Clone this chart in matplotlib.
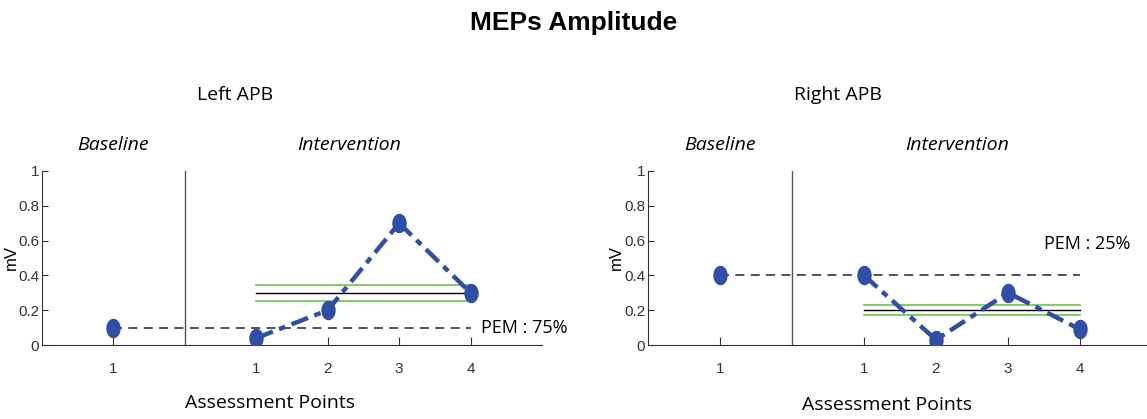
import numpy as np
import matplotlib
matplotlib.use('Agg')
import matplotlib.pyplot as plt
from matplotlib.path import Path

# du lieu doc tu hinh
panels = ['Left APB', 'Right APB']
baseline = [0.1, 0.4]
intervention = [[0.04, 0.2, 0.7, 0.3],
                [0.4, 0.03, 0.3, 0.09]]
median_line = [0.3, 0.2]
band_half = [0.045, 0.03]
pem_label = ['PEM : 75%', 'PEM : 25%']
base_ticks = ['1']
inter_ticks = ['1', '2', '3', '4']
y_ticks = [0, 0.2, 0.4, 0.6, 0.8, 1]
y_ticklabels = ['0', '0.2', '0.4', '0.6', '0.8', '1']

blue = '#2f4fa6'
txt_font = 'Open Sans'
tick_font = ['Liberation Sans Narrow', 'Liberation Sans']

# marker hinh elip (cao hon rong)
t = np.linspace(0, 2 * np.pi, 40)
elip = Path(np.column_stack([0.72 * np.cos(t), np.sin(t)]), closed=True)

fig = plt.figure(figsize=(11.47, 4.19), dpi=100)
fig.text(0.5, 0.945, 'MEPs Amplitude', ha='center', va='center',
         fontsize=19, fontweight='bold', family='Liberation Sans')

ax_pos = [[42/1147, 0.1766, 500/1147, 0.4153],
          [648/1147, 0.1766, 504/1147, 0.4153]]
pem_pos = [(6.15, 0.1), (5.5, 0.58)]

for i in range(2):
    ax = fig.add_axes(ax_pos[i])
    xb = 1
    xi = np.arange(3, 3 + len(intervention[i]))

    # duong doc phan cach
    ax.plot([2, 2], [0, 1], color='#555555', lw=1.0)
    # duong tham chieu PEM
    ax.plot([xb, xi[-1]], [baseline[i], baseline[i]], color='#444444',
            lw=1.3, ls=(0, (5, 3.5)))
    # trung vi va dai
    m = median_line[i]
    h = band_half[i]
    ax.plot([xi[0], xi[-1]], [m, m], color='black', lw=1.0)
    ax.plot([xi[0], xi[-1]], [m + h, m + h], color='#6cc24a', lw=1.2)
    ax.plot([xi[0], xi[-1]], [m - h, m - h], color='#6cc24a', lw=1.2)

    ax.plot([xb], [baseline[i]], marker=elip, ls='none', color=blue, ms=13,
            zorder=5)
    ax.plot(xi, intervention[i], color=blue, lw=3.2, ls=(0, (4, 1.5, 1.5, 1.5)),
            marker=elip, ms=13, zorder=5)

    ax.set_xlim(0, 7)
    ax.set_ylim(0, 1)
    ax.spines['top'].set_visible(False)
    ax.spines['right'].set_visible(False)
    ax.spines['left'].set_color('#333333')
    ax.spines['bottom'].set_color('#333333')
    ax.set_xticks([xb] + list(xi))
    ax.set_xticklabels(base_ticks + inter_ticks, family=tick_font, fontsize=11,
                       color='#333333')
    ax.set_yticks(y_ticks)
    ax.set_yticklabels(y_ticklabels, family=tick_font, fontsize=11,
                       color='#333333')
    ax.tick_params(axis='x', direction='in', length=6, pad=12, color='#333333')
    ax.tick_params(axis='y', direction='in', length=4, pad=2, color='#333333')
    ax.set_ylabel('mV', family=tick_font, fontsize=12, labelpad=0)
    ax.yaxis.set_label_coords(-0.047, 0.5)

    ax.text(1.0, 1.15, 'Baseline', ha='center', va='center', style='italic',
            family=txt_font, fontsize=14, clip_on=False)
    ax.text(4.3, 1.15, 'Intervention', ha='center', va='center', style='italic',
            family=txt_font, fontsize=14, clip_on=False)
    ax.text(pem_pos[i][0], pem_pos[i][1], pem_label[i], ha='left', va='center',
            family=txt_font, fontsize=13, clip_on=False)

fig.text(235/1147, 1 - 95/419, panels[0], ha='center', va='center',
         family=txt_font, fontsize=14)
fig.text(838/1147, 1 - 95/419, panels[1], ha='center', va='center',
         family=txt_font, fontsize=14)
fig.text(270/1147, 1 - 403/419, 'Assessment Points', ha='center', va='center',
         family=txt_font, fontsize=14)
fig.text(887/1147, 1 - 405/419, 'Assessment Points', ha='center', va='center',
         family=txt_font, fontsize=14)

fig.savefig('out.png', dpi=100)
